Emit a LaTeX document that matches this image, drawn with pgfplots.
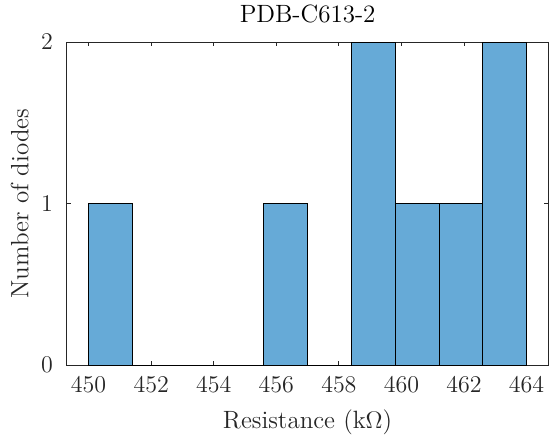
\documentclass[border=0pt]{standalone}
\usepackage{pgfplots}
\pgfplotsset{compat=1.18}
\definecolor{barblue}{RGB}{102,170,215}
\definecolor{axgray}{RGB}{38,38,38}
\begin{document}
\fontsize{12.5}{15}\selectfont
\begin{tikzpicture}
\path[use as bounding box] (-33.35pt,-38pt) rectangle (241.15pt,182.5pt);
\begin{axis}[
  at={(0,0)}, anchor=south west,
  scale only axis, width=240.9pt, height=161.5pt,
  xmin=449.3, xmax=464.7, ymin=0, ymax=2,
  xtick={450,452,...,464}, ytick={0,1,2},
  tick align=inside, major tick length=2.2pt,
  axis line style={axgray, line width=0.45pt},
  tick style={axgray, line width=0.45pt},
  every tick label/.append style={font=\fontsize{12.5}{15}\selectfont, text=axgray},
  xticklabel style={yshift=-1.5pt},
  yticklabel style={xshift=-2.5pt},
  title={PDB-C613-2},
  title style={font=\fontsize{12.5}{15}\selectfont, yshift=-1pt},
  xlabel={Resistance (k$\Omega$)},
  ylabel={Number of diodes},
  ylabel shift=-2.2pt,
  label style={font=\fontsize{12.5}{15}\selectfont, text=axgray},
]
% histogram with 10 bins of width 1.4 kOhm
\addplot[ybar interval, fill=barblue, draw=black, line width=0.45pt] coordinates {
  (450.0,1) (451.4,0) (452.8,0) (454.2,0) (455.6,1)
  (457.0,0) (458.4,2) (459.8,1) (461.2,1) (462.6,2) (464.0,2)
};
\end{axis}
\end{tikzpicture}
\end{document}
